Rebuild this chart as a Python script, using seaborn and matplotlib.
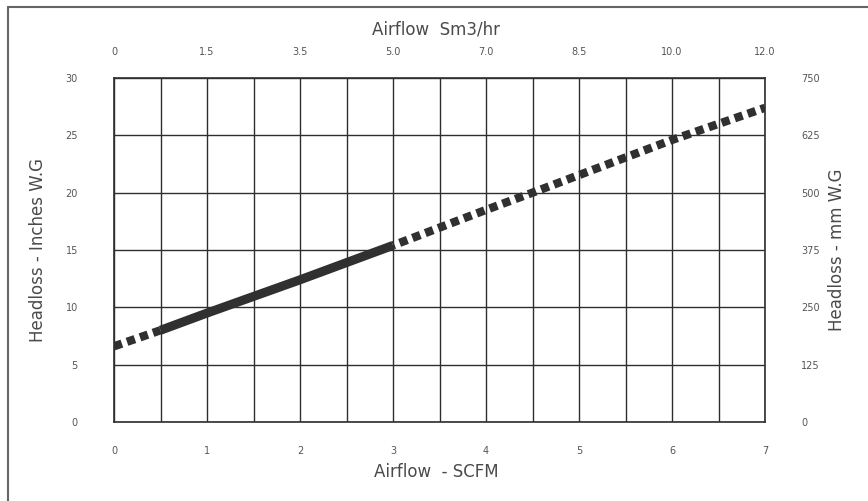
import numpy as np
import pandas as pd
import seaborn as sns
from matplotlib import pyplot as plt
from matplotlib.lines import Line2D

# 数据
scfm_lo = [0, 0.5]                      # 低流量段 (虚线)
head_lo = [6.6, 8.0]
scfm_mid = [0.5, 1, 2, 3]               # 中间段 (实线)
head_mid = [8.0, 9.5, 12.4, 15.4]
scfm_hi = [3, 4, 4.5, 6, 7]             # 高流量段 (虚线)
head_hi = [15.4, 18.5, 20.0, 24.6, 27.4]

bottom_ticks = [0, 1, 2, 3, 4, 5, 6, 7]
top_labels = ['0', '1.5', '3.5', '5.0', '7.0', '8.5', '10.0', '12.0']
left_ticks = [0, 5, 10, 15, 20, 25, 30]
right_ticks = [0, 125, 250, 375, 500, 625, 750]

sns.set_style("white")
plt.rcParams['font.family'] = ['DejaVu Sans']

line_col = '#303030'
grid_col = '#2e2e2e'
tick_col = '#555555'
lab_col = '#4a4a4a'

fig = plt.figure(figsize=(8.68, 5.01), dpi=100)
ax = fig.add_axes([114 / 868, 1 - 422 / 501, 651 / 868, 344 / 501])

lo = pd.DataFrame({'x': scfm_lo, 'y': head_lo})
mid = pd.DataFrame({'x': scfm_mid, 'y': head_mid})
hi = pd.DataFrame({'x': scfm_hi, 'y': head_hi})

dash = (0, (1.0, 0.65))
sns.lineplot(data=lo, x='x', y='y', ax=ax, color=line_col, lw=6, linestyle=dash,
             estimator=None, sort=False, zorder=5)
sns.lineplot(data=mid, x='x', y='y', ax=ax, color=line_col, lw=6.5,
             estimator=None, sort=False, solid_capstyle='butt', zorder=5)
sns.lineplot(data=hi, x='x', y='y', ax=ax, color=line_col, lw=6, linestyle=(0.8, (1.0, 0.65)),
             estimator=None, sort=False, zorder=5)

ax.set_xlim(0, 7)
ax.set_ylim(0, 30)
ax.set_xticks(np.arange(0, 7.01, 0.5), minor=True)
ax.set_xticks(bottom_ticks)
ax.set_xticklabels([str(t) for t in bottom_ticks])
ax.set_yticks(left_ticks)
ax.grid(True, which='both', color=grid_col, lw=1.0)
ax.tick_params(which='both', length=0)
ax.tick_params(axis='x', pad=17, labelsize=7, labelcolor=tick_col)
ax.tick_params(axis='y', pad=26, labelsize=7, labelcolor=tick_col)
ax.set_xlabel('')
ax.set_ylabel('')
for s in ax.spines.values():
    s.set_color(grid_col)
    s.set_linewidth(1.2)

# 右轴 mm W.G
ax2 = ax.twinx()
ax2.set_ylim(0, 750)
ax2.set_yticks(right_ticks)
ax2.tick_params(length=0, pad=26, labelsize=7, labelcolor=tick_col)
ax2.grid(False)

# 上轴 Sm3/hr
ax3 = ax.twiny()
ax3.set_xlim(0, 7)
ax3.set_xticks(bottom_ticks)
ax3.set_xticklabels(top_labels)
ax3.tick_params(length=0, pad=15, labelsize=7, labelcolor=tick_col)
ax3.grid(False)
for a in (ax2, ax3):
    for s in a.spines.values():
        s.set_visible(False)

ax.text(0.495, -0.145, 'Airflow  - SCFM', transform=ax.transAxes, ha='center', va='center',
        fontsize=12, color=lab_col)
ax.text(0.495, 1.14, 'Airflow  Sm3/hr', transform=ax.transAxes, ha='center', va='center',
        fontsize=12, color=lab_col)
ax.text(-0.117, 0.5, 'Headloss - Inches W.G', transform=ax.transAxes, ha='center', va='center',
        rotation=90, fontsize=12, color=lab_col)
ax.text(1.11, 0.5, 'Headloss - mm W.G', transform=ax.transAxes, ha='center', va='center',
        rotation=90, fontsize=12, color=lab_col)

# 外框 (左, 上)
fx = 8 / 868
fy = 1 - 7 / 501
fig.add_artist(Line2D([fx, fx], [0, fy], transform=fig.transFigure, color='#666666', lw=1.5))
fig.add_artist(Line2D([fx, 1], [fy, fy], transform=fig.transFigure, color='#666666', lw=1.5))

plt.savefig('out.png', dpi=100)
